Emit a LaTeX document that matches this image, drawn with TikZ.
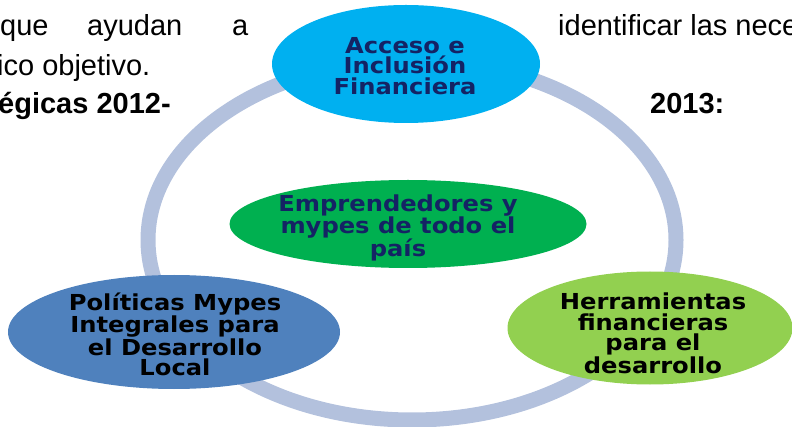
\documentclass[tikz,border=0pt]{standalone}
\usepackage{fontspec}
\setmainfont{Liberation Sans}
\newfontfamily\dfont[FakeStretch=1.1]{DejaVu Sans}
\usetikzlibrary{shapes.geometric}
\definecolor{ringc}{RGB}{179,193,221}
\definecolor{cyanc}{RGB}{0,176,240}
\definecolor{greenc}{RGB}{0,176,80}
\definecolor{bluec}{RGB}{79,129,189}
\definecolor{limec}{RGB}{146,208,80}
\definecolor{navyc}{RGB}{20,35,100}
\tikzset{
  bubble/.style={ellipse, inner sep=0pt},
  btext/.style={inner sep=0pt, align=center,
    font=\dfont\bfseries\fontsize{22}{20.7}\selectfont},
  body/.style={anchor=base west, inner sep=0pt, font=\fontsize{29}{34}\selectfont},
  bodyb/.style={body, font=\bfseries\fontsize{29}{34}\selectfont},
}
\begin{document}
\begin{tikzpicture}[x=1pt,y=-1pt]
\useasboundingbox (0,0) rectangle (792,427);
% body text
\node[body] (t1) at (0,36) {que};
\node[body] (t2) at (87,36) {ayudan};
\node[body] (t3) at (232,36) {a};
\node[body] (t4) at (558,36) {identificar las nece};
\node[body] (t5) at (-3,76) {ico objetivo.};
\node[bodyb] (t6) at (-2,114) {égicas 2012-};
\node[bodyb] (t7) at (650,114) {2013:};
% ring
\draw[ringc, line width=15pt] (412,240) ellipse [x radius=264pt, y radius=180pt];
% bubbles
\node[bubble, fill=cyanc, minimum width=268pt, minimum height=118pt] (acc) at (406,64) {};
\node[btext, text=navyc] (acct) at (405,66) {Acceso e\\Inclusión\\Financiera};
\node[bubble, fill=greenc, minimum width=357pt, minimum height=88pt] (emp) at (408,224) {};
\node[btext, text=navyc] (empt) at (398,228) {Emprendedores y\\mypes de todo el\\país};
\node[bubble, fill=bluec, minimum width=332pt, minimum height=114pt] (pol) at (174,332) {};
\node[btext, text=black] (polt) at (175,334.5) {Políticas Mypes\\Integrales para\\el Desarrollo\\Local};
\node[bubble, fill=limec, minimum width=285pt, minimum height=113pt] (her) at (650,328) {};
\node[btext, text=black] (hert) at (653,333) {Herramientas\\financieras\\para el\\desarrollo};
\end{tikzpicture}
\end{document}
